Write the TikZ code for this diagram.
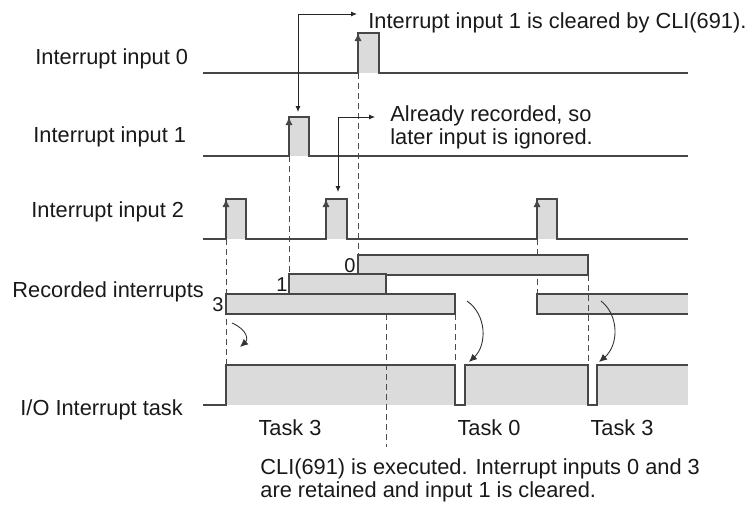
\documentclass[tikz,border=0pt]{standalone}
\usepackage{fontspec}
\setmainfont{Liberation Sans}
\usepackage{tikz}
\usetikzlibrary{arrows.meta}

\begin{document}
\begin{tikzpicture}[x=0.5pt, y=-0.5pt,
  sigline/.style={draw=black!72, line width=0.65pt},
  pulsefill/.style={fill=black!14},
  guide/.style={draw=black!70, line width=0.5pt, dash pattern=on 3pt off 2pt},
  tip/.style={-{Latex[length=4pt,width=3.6pt]}},
  callarrow/.style={draw=black!85, line width=0.45pt, {Latex[length=3pt,width=2.6pt]}-{Latex[length=3pt,width=2.6pt]}},
  lbl/.style={inner sep=0pt, font=\fontsize{10.9}{9.5}\selectfont, text=black!90},
  num/.style={inner sep=0pt, font=\fontsize{10}{12}\selectfont, text=black!90}]
\useasboundingbox (0,0) rectangle (753,505);

% signal names
\node[lbl, anchor=base west] (in0) at (35,64) {Interrupt input 0};
\node[lbl, anchor=base west] (in1) at (33,142) {Interrupt input 1};
\node[lbl, anchor=base west] (in2) at (31,217) {Interrupt input 2};
\node[lbl, anchor=base west] (rec) at (12,297) {Recorded interrupts};
\node[lbl, anchor=base west] (task) at (20,415) {I/O Interrupt task};

% fills
\fill[pulsefill] (358,33) rectangle (379,73);
\fill[pulsefill] (289,117) rectangle (309,156);
\fill[pulsefill] (226,199) rectangle (246,239);
\fill[pulsefill] (326,199) rectangle (347,239);
\fill[pulsefill] (537,199) rectangle (557,239);
\fill[pulsefill] (226,365) rectangle (455,405);
\fill[pulsefill] (465,365) rectangle (588,405);
\fill[pulsefill] (597,365) rectangle (688,405);
\fill[pulsefill] (537,294) rectangle (688,314);

% dashed guides
\draw[guide] (226,239) -- (226,365);
\draw[guide] (289,156) -- (289,274);
\draw[guide] (358,73) -- (358,255);
\draw[guide] (386,294) -- (386,447);
\draw[guide] (455,314) -- (455,365);
\draw[guide] (588,275) -- (588,365);
\draw[guide] (537,239) -- (537,294);

% inputs
\draw[sigline] (203,73) -| (358,33) -| (379,73) -- (688,73);
\draw[sigline] (203,156) -| (289,117) -| (309,156) -- (688,156);
\draw[sigline] (203,239) -| (226,199) -| (246,239) -| (326,199) -| (347,239)
  -| (537,199) -| (557,239) -- (688,239);
\draw[sigline, tip] (358,73) -- (358,33);
\draw[sigline, tip] (289,156) -- (289,117);
\draw[sigline, tip] (226,239) -- (226,199);
\draw[sigline, tip] (326,239) -- (326,199);
\draw[sigline, tip] (537,239) -- (537,199);

% recorded interrupts
\filldraw[sigline, pulsefill] (358,255) rectangle (588,275);
\filldraw[sigline, pulsefill] (289,274) rectangle (386,294);
\filldraw[sigline, pulsefill] (226,294) rectangle (455,314);
\draw[sigline] (688,294) -- (537,294) -- (537,314) -- (688,314);
\node[num] (r0) at (350,266) {0};
\node[num] (r1) at (282,285) {1};
\node[num] (r3) at (218,305) {3};

% task
\draw[sigline] (203,405) -| (226,365) -| (455,405) -| (465,365) -| (588,405)
  -| (597,365) -- (688,365);
\draw[tip, draw=black!80, line width=0.45pt] (232,323) .. controls (248,330) and (248,340) .. (240,347);
\draw[tip, draw=black!80, line width=0.45pt] (467,301) .. controls (487,315) and (487,345) .. (469,362);
\draw[tip, draw=black!80, line width=0.45pt] (601,301) .. controls (619,315) and (619,345) .. (599,362);

% callouts
\node[lbl, anchor=base west] (clr) at (368,28) {Interrupt input 1 is cleared by CLI(691).};
\node[lbl, anchor=base west, align=left] (ign) at (390,144) {Already recorded, so\\later input is ignored.};
\coordinate (clrend) at (357,14);
\coordinate (ignend) at (375,117);
\draw[callarrow] (298,112) |- (clrend);
\draw[callarrow] (338,192) |- (ignend);

% task names
\node[lbl, anchor=base] (t3a) at (290,435) {Task 3};
\node[lbl, anchor=base] (t0) at (489,435) {Task 0};
\node[lbl, anchor=base] (t3b) at (622,435) {Task 3};
\node[lbl, anchor=base west, align=left] (cli) at (260,497)
  {CLI(691) is executed. Interrupt inputs 0 and 3\\are retained and input 1 is cleared.};
\end{tikzpicture}
\end{document}
